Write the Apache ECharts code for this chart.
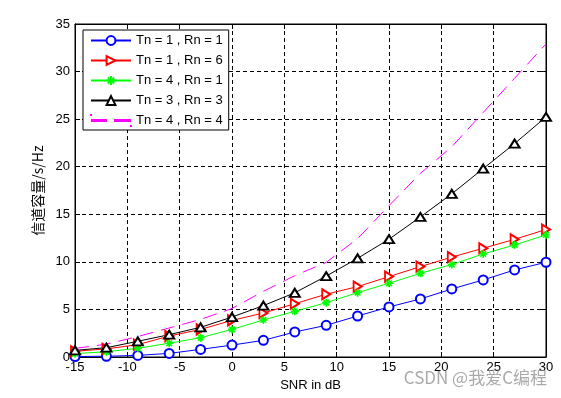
<!DOCTYPE html>
<html>
<head>
<meta charset="utf-8">
<script src="https://cdn.jsdelivr.net/npm/echarts@6/dist/echarts.min.js"></script>
<style>
  html, body { margin: 0; padding: 0; background: #fff; }
  #chart { width: 561px; height: 398px; }
</style>
</head>
<body>
<div id="chart"></div>
<script>
// SNR (dB) points
var snr = [-15, -12, -9, -6, -3, 0, 3, 6, 9, 12, 15, 18, 21, 24, 27, 30];
// capacity values
var capT1R1 = [0.05, 0.08, 0.17, 0.38, 0.8, 1.25, 1.75, 2.63, 3.33, 4.31, 5.26, 6.1, 7.15, 8.1, 9.15, 9.96];
var capT1R6 = [0.6, 0.85, 1.3, 2.2, 2.9, 3.85, 4.62, 5.6, 6.6, 7.4, 8.45, 9.5, 10.5, 11.43, 12.37, 13.4];
var capT4R1 = [0.35, 0.56, 0.91, 1.45, 2.03, 2.9, 3.89, 4.8, 5.71, 6.76, 7.75, 8.8, 9.72, 10.83, 11.78, 12.83];
var capT3R3 = [0.7, 0.98, 1.65, 2.35, 3.12, 4.2, 5.4, 6.75, 8.5, 10.37, 12.38, 14.72, 17.15, 19.8, 22.43, 25.23];
var capT4R4 = [0.9, 1.35, 2.15, 3.05, 3.95, 5.1, 6.9, 8.55, 9.95, 12.45, 15.9, 19.3, 22.1, 25.7, 29.3, 32.9];
var names = ['Tn = 1 , Rn = 1', 'Tn = 1 , Rn = 6', 'Tn = 4 , Rn = 1', 'Tn = 3 , Rn = 3', 'Tn = 4 , Rn = 4'];
var colors = ['#0000ff', '#ff0000', '#00ff00', '#000000', '#ff00ff'];
var xTicks = [-15, 30, 5];   // min, max, step
var yTicks = [0, 35, 5];

var font = 'Liberation Sans, Arial, sans-serif';
var starPath = 'path://M5,0L5,10M0,5L10,5M1.5,1.5L8.5,8.5M8.5,1.5L1.5,8.5';
// two dashes for the legend of the dashed line (tiny corner dots keep the box 40x11)
var dashIcon = 'path://M0,0h0.05v0.05h-0.05zM39.95,10.95h0.05v0.05h-0.05zM1,5h14v1h-14zM24,5h15v1h-15z';

function pairs(vals) {
    var out = [];
    for (var i = 0; i < snr.length; i++) out.push([snr[i], vals[i]]);
    return out;
}

function mkSeries(name, vals, color, symbol, size, rotate, dashed) {
    return {
        name: name,
        type: 'line',
        data: pairs(vals),
        symbol: symbol,
        symbolSize: size,
        symbolRotate: rotate || 0,
        showSymbol: symbol !== 'none',
        animation: false,
        lineStyle: { color: color, width: 1, type: dashed ? [14, 8] : 'solid' },
        itemStyle: { color: color, borderColor: color, borderWidth: symbol === starPath ? 1.6 : 1 },
        emphasis: { disabled: true }
    };
}

var chart = echarts.init(document.getElementById('chart'));

var tickStyle = { show: true, inside: true, length: 5, lineStyle: { color: '#000' } };
var legendData = names.slice(0, 4).concat([{ name: names[4], icon: dashIcon }]);

var option = {
    backgroundColor: '#fff',
    animation: false,
    grid: { left: 75, right: 15, top: 24, bottom: 41, show: true, borderColor: '#000', borderWidth: 1, backgroundColor: '#fff' },
    legend: {
        orient: 'vertical',
        left: 83,
        top: 30,
        data: legendData,
        backgroundColor: '#fff',
        borderColor: '#000',
        borderWidth: 1,
        borderRadius: 0,
        padding: [4, 6, 3, 7],
        itemWidth: 40,
        itemHeight: 11,
        itemGap: 7,
        textStyle: { fontFamily: font, fontSize: 13, color: '#000', padding: [0, 0, 0, 0] },
        selectedMode: false
    },
    xAxis: [{
        type: 'value',
        min: xTicks[0], max: xTicks[1], interval: xTicks[2],
        name: 'SNR in dB',
        nameLocation: 'middle',
        nameGap: 20,
        nameTextStyle: { fontFamily: font, fontSize: 13, color: '#000' },
        axisLine: { show: true, onZero: false, lineStyle: { color: '#000' } },
        axisTick: tickStyle,
        axisLabel: { fontFamily: font, fontSize: 13, color: '#000', margin: 4 },
        splitLine: { show: true, lineStyle: { color: '#000', type: [4, 3] } }
    }, {
        type: 'value', position: 'top',
        min: xTicks[0], max: xTicks[1], interval: xTicks[2],
        axisLine: { show: true, onZero: false, lineStyle: { color: '#000' } },
        axisTick: tickStyle, axisLabel: { show: false }, splitLine: { show: false }
    }],
    yAxis: [{
        type: 'value',
        min: yTicks[0], max: yTicks[1], interval: yTicks[2],
        name: '信道容量/s/Hz',
        nameLocation: 'middle',
        nameGap: 20,
        nameTextStyle: { fontFamily: 'Noto Sans CJK SC, Liberation Sans, sans-serif', fontSize: 14, color: '#000' },
        axisLine: { show: true, onZero: false, lineStyle: { color: '#000' } },
        axisTick: tickStyle,
        axisLabel: { fontFamily: font, fontSize: 13, color: '#000', margin: 5 },
        splitLine: { show: true, lineStyle: { color: '#000', type: [4, 3] } }
    }, {
        type: 'value', position: 'right',
        min: yTicks[0], max: yTicks[1], interval: yTicks[2],
        axisLine: { show: true, onZero: false, lineStyle: { color: '#000' } },
        axisTick: tickStyle, axisLabel: { show: false }, splitLine: { show: false }
    }],
    series: [
        mkSeries(names[0], capT1R1, colors[0], 'emptyCircle', 9),
        mkSeries(names[1], capT1R6, colors[1], 'emptyTriangle', [10, 8], -90),
        mkSeries(names[2], capT4R1, colors[2], starPath, 8),
        mkSeries(names[3], capT3R3, colors[3], 'emptyTriangle', [10, 8]),
        mkSeries(names[4], capT4R4, colors[4], 'none', 0, 0, true)
    ],
    graphic: [{
        type: 'text',
        right: 14,
        top: 369,
        z: 100,
        style: { text: 'CSDN @我爱C编程', font: '17px Noto Sans CJK SC, sans-serif', fill: 'rgba(140,140,140,0.75)' }
    }]
};

chart.setOption(option);
</script>
</body>
</html>
